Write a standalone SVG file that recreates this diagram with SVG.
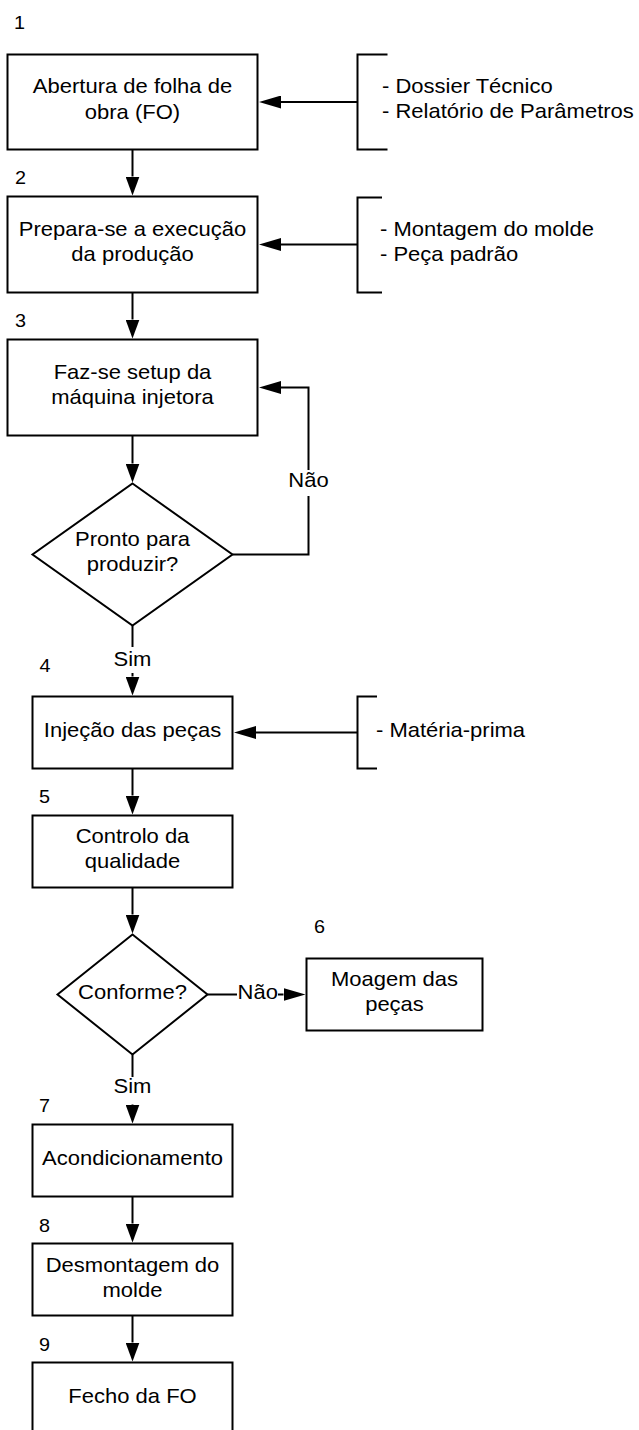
<svg xmlns="http://www.w3.org/2000/svg" width="639" height="1430" viewBox="0 0 639 1430">
<style>
  .box { fill: #fff; stroke: #000; stroke-width: 2; }
  .br { fill: none; stroke: #000; stroke-width: 2; }
  .ln { fill: none; stroke: #000; stroke-width: 2; }
  text { font-family: "Liberation Sans", Arial, sans-serif; font-size: 20px; fill: #000; }
  .c { text-anchor: middle; }
  .l { text-anchor: start; }
  .num { font-size: 18px; }
  .bg { fill: #fff; stroke: none; }
</style>
<defs>
  <marker id="av" markerUnits="userSpaceOnUse" markerWidth="19" markerHeight="14" viewBox="0 0 19 14" refX="0" refY="7" orient="auto">
    <path d="M0,0 L19,7 L0,14 Z" fill="#000"/>
  </marker>
  <marker id="ah" markerUnits="userSpaceOnUse" markerWidth="22" markerHeight="13" viewBox="0 0 22 13" refX="0" refY="6.5" orient="auto">
    <path d="M0,0 L22,6.5 L0,13 Z" fill="#000"/>
  </marker>
</defs>
<rect x="0" y="0" width="639" height="1430" fill="#fff"/>

<g id="connectors">
  <path class="ln" d="M132.5,149.5 V176.5" marker-end="url(#av)"/>
  <path class="ln" d="M132.5,292.5 V319.5" marker-end="url(#av)"/>
  <path class="ln" d="M132.5,435.5 V463.5" marker-end="url(#av)"/>
  <path class="ln" d="M132.5,625.5 V676.5" marker-end="url(#av)"/>
  <path class="ln" d="M132.5,768.5 V795.5" marker-end="url(#av)"/>
  <path class="ln" d="M132.5,887.5 V914.5" marker-end="url(#av)"/>
  <path class="ln" d="M132.5,1054.5 V1104.5" marker-end="url(#av)"/>
  <path class="ln" d="M132.5,1196.5 V1223.5" marker-end="url(#av)"/>
  <path class="ln" d="M132.5,1315.5 V1342.5" marker-end="url(#av)"/>
  <path class="ln" d="M357.5,102 H281" marker-end="url(#ah)"/>
  <path class="ln" d="M357.5,244.5 H281" marker-end="url(#ah)"/>
  <path class="ln" d="M232.5,554.5 H308.5 V387.5 H281" marker-end="url(#ah)"/>
  <path class="ln" d="M357.5,732.5 H256" marker-end="url(#ah)"/>
  <path class="ln" d="M207.5,994.5 H283.5" marker-end="url(#ah)"/>
  <g id="connector-labels">
    <rect class="bg" x="288" y="470" width="41" height="26"/>
    <text class="c" transform="translate(308.5 486.7) scale(1.1 1)">Não</text>
    <rect class="bg" x="112" y="647" width="41" height="26"/>
    <text class="c" transform="translate(132.5 665.7) scale(1.1 1)">Sim</text>
    <rect class="bg" x="237" y="983" width="41" height="22"/>
    <text class="c" transform="translate(257.8 999) scale(1.1 1)">Não</text>
    <rect class="bg" x="112" y="1077" width="41" height="27"/>
    <text class="c" transform="translate(132.5 1093.3) scale(1.1 1)">Sim</text>
  </g>
</g>

<g id="step-numbers">
  <text class="l num" transform="translate(14 29.3) scale(1.1 1)">1</text>
  <text class="l num" transform="translate(15 184.3) scale(1.1 1)">2</text>
  <text class="l num" transform="translate(15 327) scale(1.1 1)">3</text>
  <text class="l num" transform="translate(39.5 672.3) scale(1.1 1)">4</text>
  <text class="l num" transform="translate(39 803.3) scale(1.1 1)">5</text>
  <text class="l num" transform="translate(314 933.3) scale(1.1 1)">6</text>
  <text class="l num" transform="translate(39 1112.3) scale(1.1 1)">7</text>
  <text class="l num" transform="translate(39 1231.7) scale(1.1 1)">8</text>
  <text class="l num" transform="translate(39 1350.7) scale(1.1 1)">9</text>
</g>

<g id="n1">
  <rect class="box" x="7.5" y="54.5" width="250" height="95"/>
  <text class="c" transform="translate(132.5 93.3) scale(1.1 1)">Abertura de folha de</text>
  <text class="c" transform="translate(132.5 119) scale(1.1 1)">obra (FO)</text>
</g>
<g id="in1">
  <path class="br" d="M387.5,54.5 H357.5 V149.5 H387.5"/>
  <text class="l" transform="translate(382 92.7) scale(1.1 1)">- Dossier Técnico</text>
  <text class="l" transform="translate(382 118.3) scale(1.1 1)">- Relatório de Parâmetros</text>
</g>
<g id="n2">
  <rect class="box" x="7.5" y="196.5" width="250" height="96"/>
  <text class="c" transform="translate(132.5 236) scale(1.1 1)">Prepara-se a execução</text>
  <text class="c" transform="translate(132.5 261) scale(1.1 1)">da produção</text>
</g>
<g id="in2">
  <path class="br" d="M382,197.5 H357.5 V292.5 H382"/>
  <text class="l" transform="translate(380 236) scale(1.1 1)">- Montagem do molde</text>
  <text class="l" transform="translate(380 261) scale(1.1 1)">- Peça padrão</text>
</g>
<g id="n3">
  <rect class="box" x="7.5" y="339.5" width="250" height="96"/>
  <text class="c" transform="translate(132.5 379.3) scale(1.1 1)">Faz-se setup da</text>
  <text class="c" transform="translate(132.5 404.3) scale(1.1 1)">máquina injetora</text>
</g>
<g id="d1">
  <path class="box" d="M132.5,483.5 L232.5,554.5 L132.5,625.5 L32.5,554.5 Z"/>
  <text class="c" transform="translate(132.5 546) scale(1.1 1)">Pronto para</text>
  <text class="c" transform="translate(132.5 570.7) scale(1.1 1)">produzir?</text>
</g>
<g id="n4">
  <rect class="box" x="32.5" y="696.5" width="200" height="72"/>
  <text class="c" transform="translate(132.5 736.7) scale(1.1 1)">Injeção das peças</text>
</g>
<g id="in4">
  <path class="br" d="M377,696.5 H357.5 V768.5 H377"/>
  <text class="l" transform="translate(376 736.7) scale(1.1 1)">- Matéria-prima</text>
</g>
<g id="n5">
  <rect class="box" x="32.5" y="815.5" width="200" height="72"/>
  <text class="c" transform="translate(132.5 842.7) scale(1.1 1)">Controlo da</text>
  <text class="c" transform="translate(132.5 867.7) scale(1.1 1)">qualidade</text>
</g>
<g id="d2">
  <path class="box" d="M132.5,934.5 L207.5,994.5 L132.5,1054.5 L57.5,994.5 Z"/>
  <text class="c" transform="translate(132.5 999) scale(1.1 1)">Conforme?</text>
</g>
<g id="n6">
  <rect class="box" x="306.5" y="958.5" width="176" height="72"/>
  <text class="c" transform="translate(394.5 986) scale(1.1 1)">Moagem das</text>
  <text class="c" transform="translate(394.5 1011) scale(1.1 1)">peças</text>
</g>
<g id="n7">
  <rect class="box" x="32.5" y="1124.5" width="200" height="72"/>
  <text class="c" transform="translate(132.5 1165) scale(1.1 1)">Acondicionamento</text>
</g>
<g id="n8">
  <rect class="box" x="32.5" y="1243.5" width="200" height="72"/>
  <text class="c" transform="translate(132.5 1271.7) scale(1.1 1)">Desmontagem do</text>
  <text class="c" transform="translate(132.5 1296.7) scale(1.1 1)">molde</text>
</g>
<g id="n9">
  <rect class="box" x="32.5" y="1362.5" width="200" height="80"/>
  <text class="c" transform="translate(132.5 1402.7) scale(1.1 1)">Fecho da FO</text>
</g>
</svg>
